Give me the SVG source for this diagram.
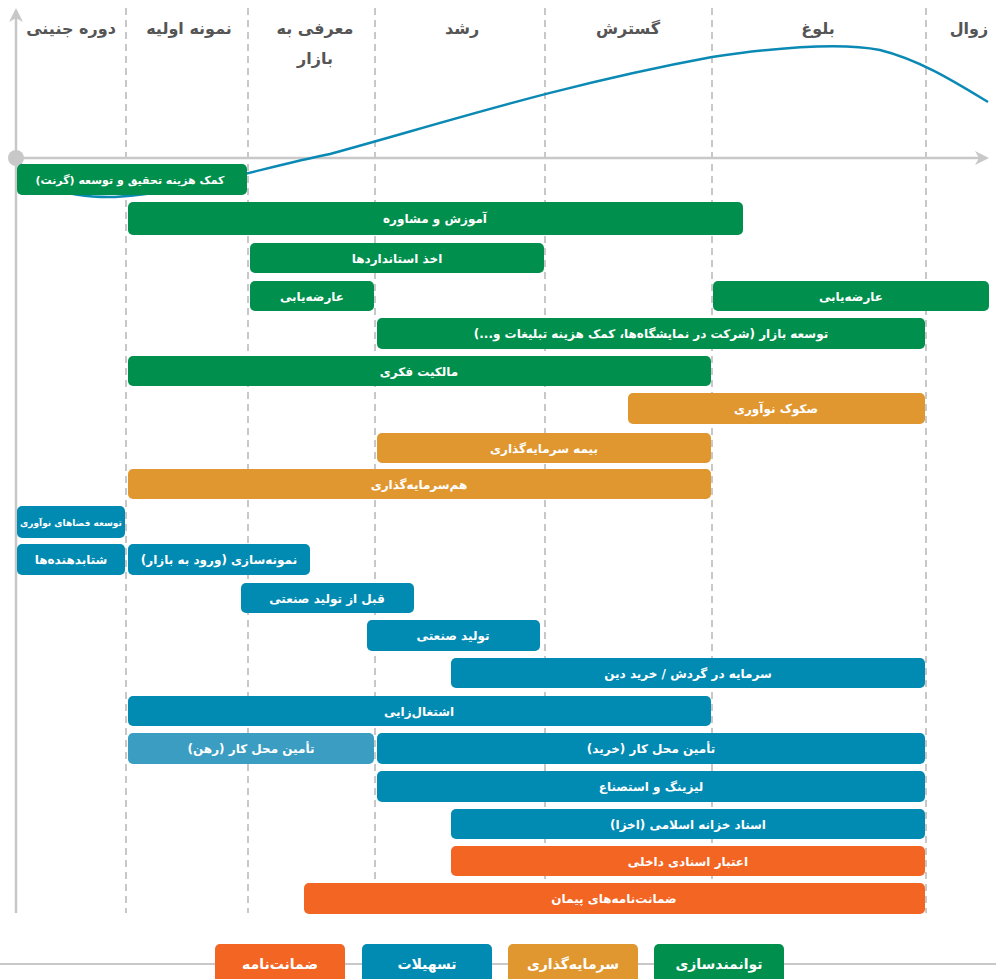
<svg xmlns="http://www.w3.org/2000/svg" width="996" height="979" viewBox="0 0 996 979">
<defs>
<style>
.hd{font-family:"DejaVu Sans","Noto Sans",sans-serif;font-weight:bold;font-size:16px;fill:#555;text-anchor:middle}
.bt{font-family:"DejaVu Sans","Noto Sans",sans-serif;font-weight:bold;font-size:12px;fill:#fff;text-anchor:middle}
.lt{font-family:"DejaVu Sans","Noto Sans",sans-serif;font-weight:bold;font-size:14px;fill:#fff;text-anchor:middle}
.g{fill:#008f4c}.o{fill:#e1972f}.b{fill:#018ab2}.lb{fill:#3b9dc1}.r{fill:#f26522}
.dash{stroke:#c8c8c8;stroke-width:2;stroke-dasharray:7 5;fill:none}
.ax{stroke:#c8c8c8;stroke-width:2.5;fill:none}
</style>
</defs>
<rect width="996" height="979" fill="#fff"/>
<g id="grid">
<line class="dash" x1="126" y1="8" x2="126" y2="913"/>
<line class="dash" x1="248" y1="8" x2="248" y2="913"/>
<line class="dash" x1="375" y1="8" x2="375" y2="913"/>
<line class="dash" x1="545" y1="8" x2="545" y2="913"/>
<line class="dash" x1="712" y1="8" x2="712" y2="913"/>
<line class="dash" x1="926" y1="8" x2="926" y2="913"/>
</g>
<g id="connectors">
<line class="ax" x1="16" y1="913" x2="16" y2="12"/>
<path d="M9,22 L16,8 L23,22 L16,18 Z" fill="#c8c8c8"/>
<line class="ax" x1="16" y1="158" x2="980" y2="158"/>
<path d="M975,151 L989,158 L975,165 L979,158 Z" fill="#c8c8c8"/>
<path d="M18,160 C35,188 70,198 115,197 C190,192 260,168 330,154 C440,124 560,85 712,57 C780,47 840,42 880,50 C920,60 955,82 988,102" stroke="#0a89b5" stroke-width="2.5" fill="none"/>
<circle cx="16" cy="158" r="8" fill="#c8c8c8"/>
</g>
<g id="headers">
<text class="hd" x="71" y="34">دوره جنینی</text>
<text class="hd" x="189" y="34">نمونه اولیه</text>
<text class="hd" x="315" y="34">معرفی به</text>
<text class="hd" x="315" y="64">بازار</text>
<text class="hd" x="462" y="34">رشد</text>
<text class="hd" x="628" y="34">گسترش</text>
<text class="hd" x="818" y="34">بلوغ</text>
<text class="hd" x="969" y="34">زوال</text>
</g>
<g id="n1"><rect class="g" x="17" y="164" width="230" height="31" rx="5"/><text class="bt" x="130" y="184" style="font-size:11px">کمک هزینه تحقیق و توسعه (گرنت)</text></g>
<g id="n2"><rect class="g" x="128" y="202" width="615" height="33" rx="5"/><text class="bt" x="435" y="223">آموزش و مشاوره</text></g>
<g id="n3"><rect class="g" x="250" y="243" width="294" height="30" rx="5"/><text class="bt" x="397" y="263">اخذ استانداردها</text></g>
<g id="n4"><rect class="g" x="250" y="281" width="124" height="30" rx="5"/><text class="bt" x="312" y="301">عارضه‌یابی</text></g>
<g id="n5"><rect class="g" x="713" y="281" width="276" height="30" rx="5"/><text class="bt" x="851" y="301">عارضه‌یابی</text></g>
<g id="n6"><rect class="g" x="377" y="318" width="548" height="31" rx="5"/><text class="bt" x="651" y="338">توسعه بازار (شرکت در نمایشگاه‌ها، کمک هزینه تبلیغات و...)</text></g>
<g id="n7"><rect class="g" x="128" y="356" width="583" height="30" rx="5"/><text class="bt" x="419" y="376">مالکیت فکری</text></g>
<g id="n8"><rect class="o" x="628" y="393" width="297" height="31" rx="5"/><text class="bt" x="776" y="413">صکوک نوآوری</text></g>
<g id="n9"><rect class="o" x="377" y="433" width="334" height="30" rx="5"/><text class="bt" x="544" y="453">بیمه سرمایه‌گذاری</text></g>
<g id="n10"><rect class="o" x="128" y="469" width="583" height="30" rx="5"/><text class="bt" x="419" y="489">هم‌سرمایه‌گذاری</text></g>
<g id="n11"><rect class="b" x="17" y="506" width="108" height="32" rx="5"/><text class="bt" x="71" y="526" style="font-size:9px">توسعه فضاهای نوآوری</text></g>
<g id="n12"><rect class="b" x="17" y="544" width="108" height="31" rx="5"/><text class="bt" x="71" y="564">شتابدهنده‌ها</text></g>
<g id="n13"><rect class="b" x="128" y="544" width="182" height="31" rx="5"/><text class="bt" x="219" y="564">نمونه‌سازی (ورود به بازار)</text></g>
<g id="n14"><rect class="b" x="241" y="583" width="173" height="30" rx="5"/><text class="bt" x="327" y="603">قبل از تولید صنعتی</text></g>
<g id="n15"><rect class="b" x="367" y="620" width="173" height="31" rx="5"/><text class="bt" x="453" y="640">تولید صنعتی</text></g>
<g id="n16"><rect class="b" x="451" y="658" width="474" height="30" rx="5"/><text class="bt" x="688" y="678">سرمایه در گردش / خرید دین</text></g>
<g id="n17"><rect class="b" x="128" y="696" width="583" height="30" rx="5"/><text class="bt" x="419" y="716">اشتغال‌زایی</text></g>
<g id="n18"><rect class="lb" x="128" y="733" width="246" height="31" rx="5"/><text class="bt" x="251" y="753">تأمین محل کار (رهن)</text></g>
<g id="n19"><rect class="b" x="377" y="733" width="548" height="31" rx="5"/><text class="bt" x="651" y="753">تأمین محل کار (خرید)</text></g>
<g id="n20"><rect class="b" x="377" y="771" width="548" height="31" rx="5"/><text class="bt" x="651" y="791">لیزینگ و استصناع</text></g>
<g id="n21"><rect class="b" x="451" y="809" width="474" height="30" rx="5"/><text class="bt" x="688" y="829">اسناد خزانه اسلامی (اخزا)</text></g>
<g id="n22"><rect class="r" x="451" y="846" width="474" height="30" rx="5"/><text class="bt" x="688" y="866">اعتبار اسنادی داخلی</text></g>
<g id="n23"><rect class="r" x="304" y="883" width="621" height="31" rx="5"/><text class="bt" x="614" y="903">ضمانت‌نامه‌های پیمان</text></g>
<g id="legend">
<line x1="0" y1="964" x2="996" y2="964" stroke="#c8c8c8" stroke-width="2"/>
<rect class="r" x="215" y="944" width="130" height="45" rx="5"/><text class="lt" x="280" y="969">ضمانت‌نامه</text>
<rect class="b" x="362" y="944" width="130" height="45" rx="5"/><text class="lt" x="427" y="969">تسهیلات</text>
<rect class="o" x="508" y="944" width="130" height="45" rx="5"/><text class="lt" x="573" y="969">سرمایه‌گذاری</text>
<rect class="g" x="654" y="944" width="130" height="45" rx="5"/><text class="lt" x="719" y="969">توانمندسازی</text>
</g>
</svg>
